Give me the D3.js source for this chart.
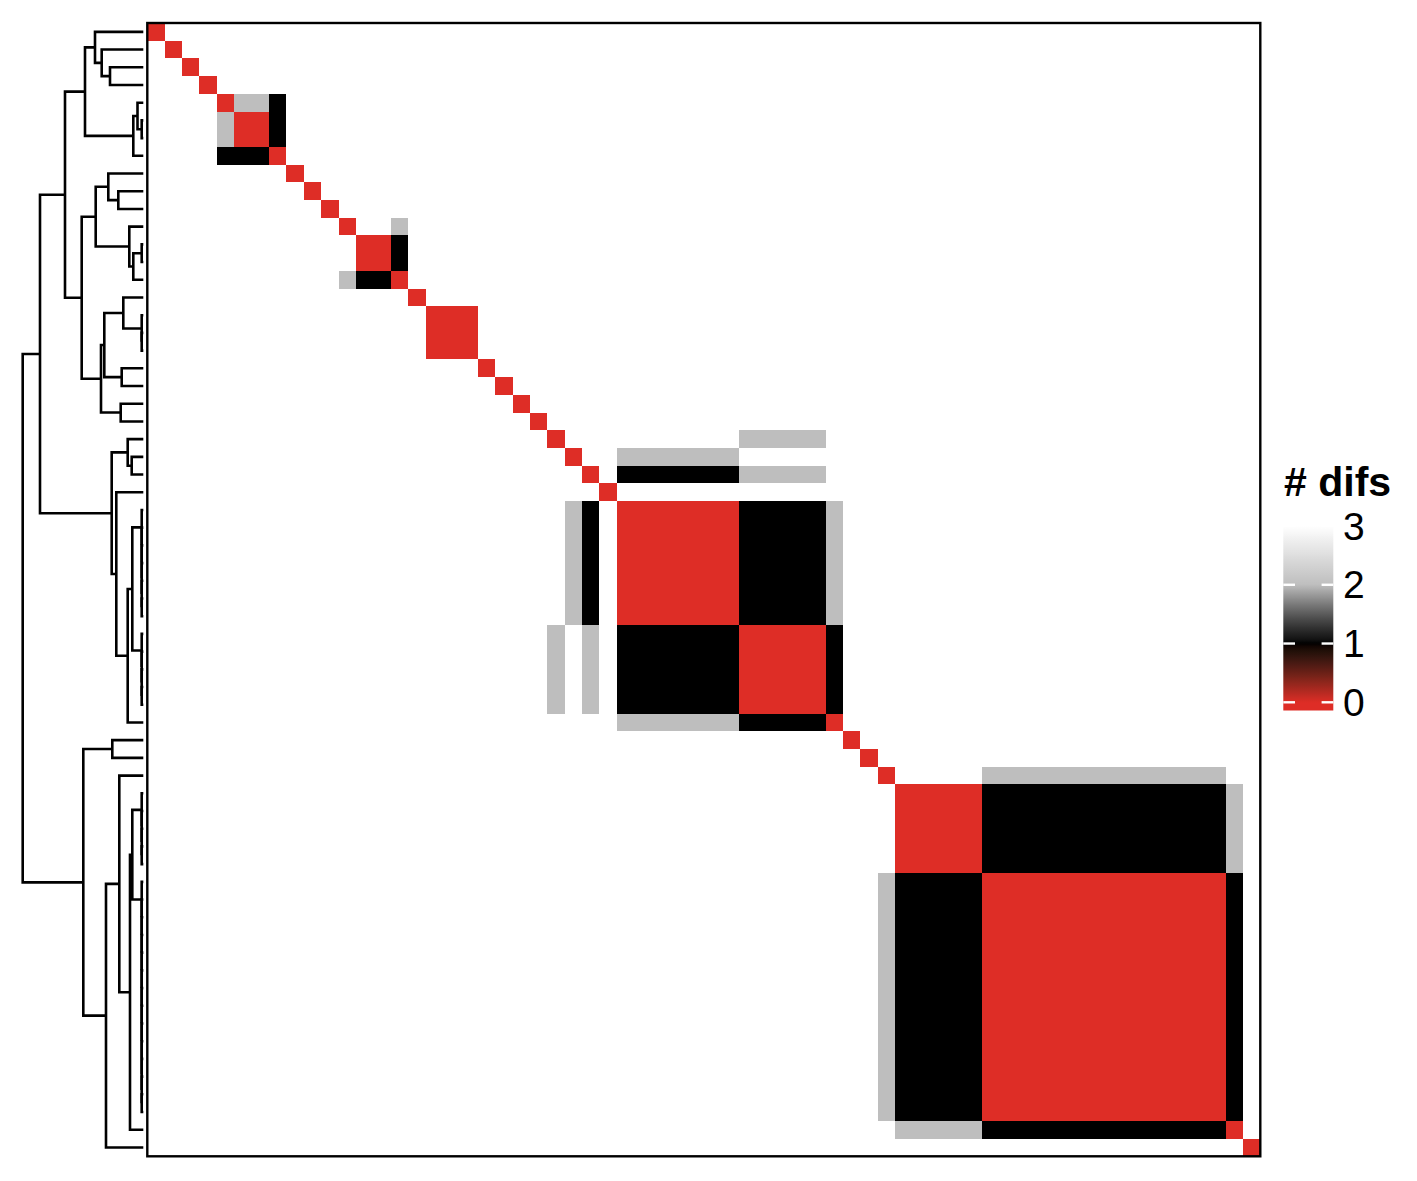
<!DOCTYPE html>
<html><head><meta charset="utf-8">
<script src="https://cdn.jsdelivr.net/npm/d3@7"></script>
<style>body{margin:0;background:#fff}svg{display:block}</style>
</head><body>
<svg id="c" width="1417" height="1181"></svg>
<script>
// ---------------- DATA ----------------
const nLeaves = 64;
// pairwise number of differences (3 = three or more), rows/cols in dendrogram order
const distRows = [
"03333333 33333333 33333333 33333333 33333333 33333333 33333333 33333333",
"30333333 33333333 33333333 33333333 33333333 33333333 33333333 33333333",
"33033333 33333333 33333333 33333333 33333333 33333333 33333333 33333333",
"33303333 33333333 33333333 33333333 33333333 33333333 33333333 33333333",
"33330221 33333333 33333333 33333333 33333333 33333333 33333333 33333333",
"33332001 33333333 33333333 33333333 33333333 33333333 33333333 33333333",
"33332001 33333333 33333333 33333333 33333333 33333333 33333333 33333333",
"33331110 33333333 33333333 33333333 33333333 33333333 33333333 33333333",
"33333333 03333333 33333333 33333333 33333333 33333333 33333333 33333333",
"33333333 30333333 33333333 33333333 33333333 33333333 33333333 33333333",
"33333333 33033333 33333333 33333333 33333333 33333333 33333333 33333333",
"33333333 33303323 33333333 33333333 33333333 33333333 33333333 33333333",
"33333333 33330013 33333333 33333333 33333333 33333333 33333333 33333333",
"33333333 33330013 33333333 33333333 33333333 33333333 33333333 33333333",
"33333333 33321103 33333333 33333333 33333333 33333333 33333333 33333333",
"33333333 33333330 33333333 33333333 33333333 33333333 33333333 33333333",
"33333333 33333333 00033333 33333333 33333333 33333333 33333333 33333333",
"33333333 33333333 00033333 33333333 33333333 33333333 33333333 33333333",
"33333333 33333333 00033333 33333333 33333333 33333333 33333333 33333333",
"33333333 33333333 33303333 33333333 33333333 33333333 33333333 33333333",
"33333333 33333333 33330333 33333333 33333333 33333333 33333333 33333333",
"33333333 33333333 33333033 33333333 33333333 33333333 33333333 33333333",
"33333333 33333333 33333303 33333333 33333333 33333333 33333333 33333333",
"33333333 33333333 33333330 33333333 33222223 33333333 33333333 33333333",
"33333333 33333333 33333333 03322222 22333333 33333333 33333333 33333333",
"33333333 33333333 33333333 30311111 11222223 33333333 33333333 33333333",
"33333333 33333333 33333333 33033333 33333333 33333333 33333333 33333333",
"33333333 33333333 33333333 21300000 00111112 33333333 33333333 33333333",
"33333333 33333333 33333333 21300000 00111112 33333333 33333333 33333333",
"33333333 33333333 33333333 21300000 00111112 33333333 33333333 33333333",
"33333333 33333333 33333333 21300000 00111112 33333333 33333333 33333333",
"33333333 33333333 33333333 21300000 00111112 33333333 33333333 33333333",
"33333333 33333333 33333333 21300000 00111112 33333333 33333333 33333333",
"33333333 33333333 33333333 21300000 00111112 33333333 33333333 33333333",
"33333333 33333333 33333332 32311111 11000001 33333333 33333333 33333333",
"33333333 33333333 33333332 32311111 11000001 33333333 33333333 33333333",
"33333333 33333333 33333332 32311111 11000001 33333333 33333333 33333333",
"33333333 33333333 33333332 32311111 11000001 33333333 33333333 33333333",
"33333333 33333333 33333332 32311111 11000001 33333333 33333333 33333333",
"33333333 33333333 33333333 33322222 22111110 33333333 33333333 33333333",
"33333333 33333333 33333333 33333333 33333333 03333333 33333333 33333333",
"33333333 33333333 33333333 33333333 33333333 30333333 33333333 33333333",
"33333333 33333333 33333333 33333333 33333333 33033333 22222222 22222233",
"33333333 33333333 33333333 33333333 33333333 33300000 11111111 11111123",
"33333333 33333333 33333333 33333333 33333333 33300000 11111111 11111123",
"33333333 33333333 33333333 33333333 33333333 33300000 11111111 11111123",
"33333333 33333333 33333333 33333333 33333333 33300000 11111111 11111123",
"33333333 33333333 33333333 33333333 33333333 33300000 11111111 11111123",
"33333333 33333333 33333333 33333333 33333333 33211111 00000000 00000013",
"33333333 33333333 33333333 33333333 33333333 33211111 00000000 00000013",
"33333333 33333333 33333333 33333333 33333333 33211111 00000000 00000013",
"33333333 33333333 33333333 33333333 33333333 33211111 00000000 00000013",
"33333333 33333333 33333333 33333333 33333333 33211111 00000000 00000013",
"33333333 33333333 33333333 33333333 33333333 33211111 00000000 00000013",
"33333333 33333333 33333333 33333333 33333333 33211111 00000000 00000013",
"33333333 33333333 33333333 33333333 33333333 33211111 00000000 00000013",
"33333333 33333333 33333333 33333333 33333333 33211111 00000000 00000013",
"33333333 33333333 33333333 33333333 33333333 33211111 00000000 00000013",
"33333333 33333333 33333333 33333333 33333333 33211111 00000000 00000013",
"33333333 33333333 33333333 33333333 33333333 33211111 00000000 00000013",
"33333333 33333333 33333333 33333333 33333333 33211111 00000000 00000013",
"33333333 33333333 33333333 33333333 33333333 33211111 00000000 00000013",
"33333333 33333333 33333333 33333333 33333333 33322222 11111111 11111103",
"33333333 33333333 33333333 33333333 33333333 33333333 33333333 33333330"
];
// dendrogram merges: [name, left child, right child, height]; numbers are leaves
const dendroMerges = [
["g56",5,6,0.16],["f4",4,"g56",0.58],["e7","f4",7,1.00],
["c23",2,3,3.33],["b1",1,"c23",4.16],["a0",0,"b1",4.83],["d","a0","e7",5.83],
["m910",9,10,2.50],["m8",8,"m910",3.50],
["m1213",12,13,0.16],["m14","m1213",14,1.00],["m11",11,"m14",1.40],["m3","m8","m11",4.76],
["o1718",17,18,0.16],["o16",16,"o1718",0.16],["o15",15,"o16",2.00],
["p1920",19,20,2.16],["q","o15","p1920",3.90],["p2122",21,22,2.26],["n","q","p2122",4.23],
["i","m3","n",6.16],["h","d","i",7.83],
["s2425",24,25,1.16],["s23",23,"s2425",1.56],
["w32",32,33,0.16],["w31",31,"w32",0.16],["w30",30,"w31",0.16],["w29",29,"w30",0.16],
["w28",28,"w29",0.16],["w27",27,"w28",0.16],
["v37",37,38,0.16],["v36",36,"v37",0.16],["v35",35,"v36",0.16],["v34",34,"v35",0.16],
["v","w27","v34",1.10],["u","v",39,1.56],["t",26,"u",2.70],["k","s23","t",3.16],
["j","h","k",10.33],
["l4041",40,41,3.10],
["y46",46,47,0.16],["y45",45,"y46",0.16],["y44",44,"y45",0.16],["y43",43,"y44",0.16],
["z60",60,61,0.16],["z59",59,"z60",0.16],["z58",58,"z59",0.16],["z57",57,"z58",0.16],
["z56",56,"z57",0.16],["z55",55,"z56",0.16],["z54",54,"z55",0.16],["z53",53,"z54",0.16],
["z52",52,"z53",0.16],["z51",51,"z52",0.16],["z50",50,"z51",0.16],["z49",49,"z50",0.16],
["z48",48,"z49",0.16],
["y3","y43","z48",1.10],["x2","y3",62,1.33],["x1",42,"x2",2.40],["l2","x1",63,3.73],
["l","l4041","l2",6.00],["root","j","l",12.06]
];
const legendTitle = "# difs";
const legendTicks = [0, 1, 2, 3];
const colorDomain = [0, 1, 2, 3];
const colorRange = ["#DE2D26", "#000000", "#BEBEBE", "#FFFFFF"];

// ---------------- DRAW ----------------
const svg = d3.select("#c");
const panel = {x0: 147.3, x1: 1260.3, y0: 23, y1: 1156.3};
const matrix = distRows.map(r => r.replace(/\s/g, "").split("").map(Number));
const idx = d3.range(nLeaves);
const x = d3.scaleBand().domain(idx).range([panel.x0, panel.x1]);
const y = d3.scaleBand().domain(idx).range([panel.y0, panel.y1]);
const color = d3.scaleLinear().domain(colorDomain).range(colorRange)
  .interpolate(d3.interpolateLab).clamp(true);

// dendrogram
const hx = d3.scaleLinear().domain([0, d3.max(dendroMerges, m => m[3])]).range([143.3, 22.7]);
const pos = new Map();
idx.forEach(i => pos.set(i, {x: hx(0), y: y(i) + y.bandwidth() / 2}));
const paths = [];
dendroMerges.forEach(([name, a, b, h]) => {
  const pa = pos.get(a), pb = pos.get(b);
  const node = {x: hx(h), y: (pa.y + pb.y) / 2};
  pos.set(name, node);
  paths.push(`M${pa.x},${pa.y}H${node.x}V${pb.y}H${pb.x}`);
});
svg.append("g").selectAll("path").data(paths).join("path")
  .attr("d", d => d).attr("fill", "none").attr("stroke", "#000")
  .attr("stroke-width", 2.6).attr("stroke-linejoin", "miter").attr("stroke-linecap", "butt");

// heatmap cells
const cells = [];
matrix.forEach((row, i) => row.forEach((v, j) => cells.push({i, j, v})));
svg.append("g").selectAll("rect").data(cells).join("rect")
  .attr("x", d => x(d.j)).attr("y", d => y(d.i))
  .attr("width", x.bandwidth() + 0.5).attr("height", y.bandwidth() + 0.5)
  .attr("fill", d => color(d.v)).attr("shape-rendering", "crispEdges");

// panel border
svg.append("rect").attr("x", panel.x0).attr("y", panel.y0)
  .attr("width", panel.x1 - panel.x0).attr("height", panel.y1 - panel.y0)
  .attr("fill", "none").attr("stroke", "#000").attr("stroke-width", 2.4);

// legend
const bar = {x0: 1283.3, x1: 1333.3, y0: 522, y1: 710.5};
const ly = d3.scaleLinear().domain([0, 3]).range([702.3, 526]);
const defs = svg.append("defs");
const grad = defs.append("linearGradient").attr("id", "lg")
  .attr("gradientUnits", "userSpaceOnUse")
  .attr("x1", 0).attr("x2", 0).attr("y1", bar.y1).attr("y2", bar.y0);
d3.range(0, 1.0001, 0.01).forEach(t => {
  const yy = bar.y1 - t * (bar.y1 - bar.y0);
  grad.append("stop").attr("offset", t).attr("stop-color", color(ly.invert(yy)));
});
svg.append("rect").attr("x", bar.x0).attr("y", bar.y0)
  .attr("width", bar.x1 - bar.x0).attr("height", bar.y1 - bar.y0).attr("fill", "url(#lg)");
const tk = svg.append("g").attr("stroke", "#fff").attr("stroke-width", 2.4);
legendTicks.forEach(v => {
  tk.append("line").attr("x1", bar.x0).attr("x2", bar.x0 + 11.7).attr("y1", ly(v)).attr("y2", ly(v));
  tk.append("line").attr("x1", bar.x1 - 11.7).attr("x2", bar.x1).attr("y1", ly(v)).attr("y2", ly(v));
});
svg.append("g").selectAll("text").data(legendTicks).join("text")
  .attr("x", 1343).attr("y", d => ly(d)).attr("dy", "0.35em")
  .attr("font-family", "'Liberation Sans', Arial, sans-serif").attr("font-size", 39)
  .attr("fill", "#000").text(d => d);
svg.append("text").attr("x", 1284).attr("y", 495.5)
  .attr("font-family", "'Liberation Sans', Arial, sans-serif").attr("font-size", 41)
  .attr("font-weight", "bold").attr("fill", "#000").text(legendTitle);
</script>
</body></html>
